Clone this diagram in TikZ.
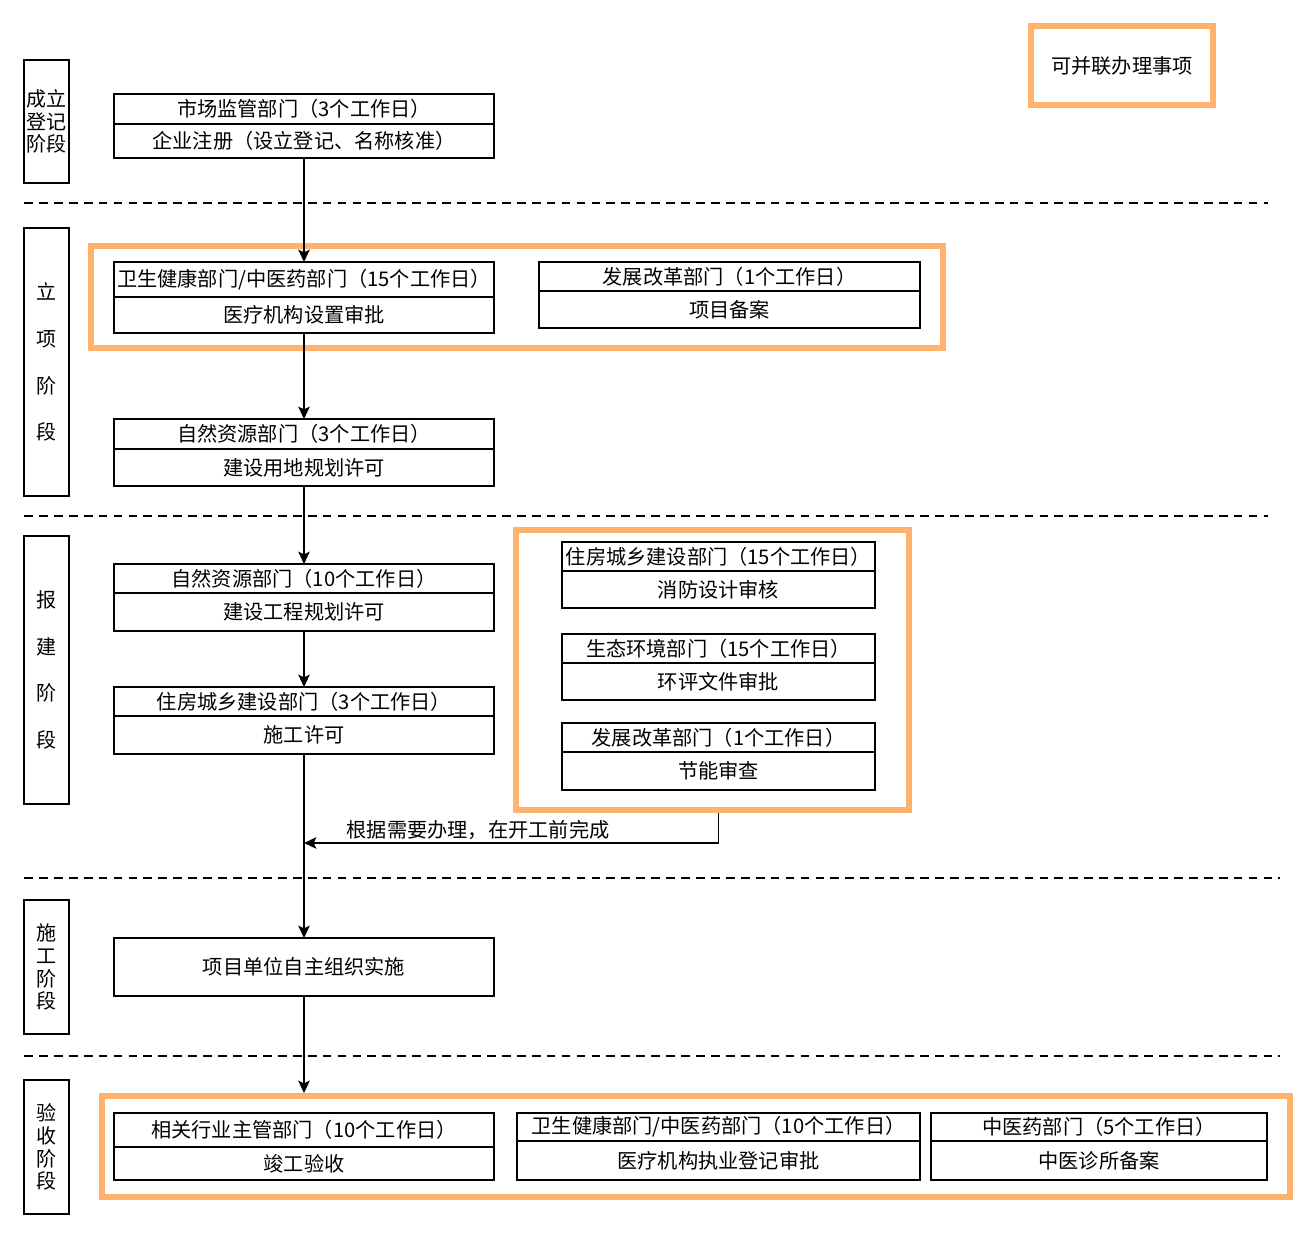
\documentclass[tikz,border=0pt]{standalone}
\usepackage{fontspec}
\setmainfont{Noto Sans CJK SC}
\usepackage{tikz}
\usetikzlibrary{arrows.meta}
\usetikzlibrary{positioning}
\definecolor{mergeorange}{HTML}{FFB36E}
\tikzset{
  head/.style={draw, line width=1.1pt, outer sep=0pt, inner sep=0pt, minimum width=7.6cm, minimum height=0.58cm},
  body/.style={head, minimum height=0.76cm},
  stage/.style={draw, line width=1.1pt, inner sep=0pt, minimum width=0.9cm, align=center},
  tight/.style={stage, font=\fontsize{11.4}{13}\selectfont},
  spaced/.style={stage, font=\fontsize{11.4}{26.6}\selectfont},
  group/.style={draw=mergeorange, line width=3.4pt, inner sep=0pt},
  divider/.style={line width=1.1pt, dash pattern=on 5pt off 3.5pt}
}
\begin{document}
\begin{tikzpicture}[x=0.02cm, y=-0.02cm, >={Stealth[length=7pt,width=6.5pt,inset=1.5pt]},
  font=\fontsize{11.5}{13.5}\selectfont]
\useasboundingbox (0,0) rectangle (1315,1237);
\node[group, minimum width=3.64cm, minimum height=1.58cm] (legend) at (1122,65.5) {可并联办理事项};
\node[tight, minimum height=2.46cm] (s1) at (46.5,121.5) {成立\\登记\\阶段};
\node[spaced, minimum height=5.36cm] (s2) at (46.5,362) {立\\项\\阶\\段};
\node[spaced, minimum height=5.36cm] (s3) at (46.5,670) {报\\建\\阶\\段};
\node[tight, minimum height=2.68cm] (s4) at (46.5,967) {施\\工\\阶\\段};
\node[tight, minimum height=2.68cm] (s5) at (46.5,1147) {验\\收\\阶\\段};
\draw[divider] (24,203) -- (1268,203);
\draw[divider] (24,516) -- (1268,516);
\draw[divider] (24,878) -- (1280,878);
\draw[divider] (24,1056) -- (1280,1056);
\node[group, minimum width=17.04cm, minimum height=2.04cm] (O1) at (517,297) {};
\node[group, minimum width=7.86cm, minimum height=5.6cm] (O2) at (712.5,670) {};
\node[group, minimum width=23.76cm, minimum height=2.02cm] (O3) at (696,1146.5) {};
\node[head, minimum height=0.6cm] (b1a) at (304,109) {市场监管部门（3个工作日）};
\node[body, minimum height=0.68cm, below=0pt of b1a] (b1b) {企业注册（设立登记、名称核准）};
\node[head, minimum height=0.7cm] (b2a) at (304,279.5) {卫生健康部门/中医药部门（15个工作日）};
\node[body, minimum height=0.72cm, below=0pt of b2a] (b2b) {医疗机构设置审批};
\node[head, minimum width=7.62cm] (b3a) at (729.5,276.5) {发展改革部门（1个工作日）};
\node[body, minimum width=7.62cm, minimum height=0.74cm, below=0pt of b3a] (b3b) {项目备案};
\node[head, minimum height=0.6cm] (b4a) at (304,434) {自然资源部门（3个工作日）};
\node[body, minimum height=0.74cm, below=0pt of b4a] (b4b) {建设用地规划许可};
\node[head] (b5a) at (304,578.5) {自然资源部门（10个工作日）};
\node[body, below=0pt of b5a] (b5b) {建设工程规划许可};
\node[head] (b6a) at (304,701.5) {住房城乡建设部门（3个工作日）};
\node[body, below=0pt of b6a] (b6b) {施工许可};
\node[head, minimum width=6.26cm] (r1a) at (718.5,556.5) {住房城乡建设部门（15个工作日）};
\node[body, minimum width=6.26cm, minimum height=0.74cm, below=0pt of r1a] (r1b) {消防设计审核};
\node[head, minimum width=6.26cm] (r2a) at (718.5,648.5) {生态环境部门（15个工作日）};
\node[body, minimum width=6.26cm, minimum height=0.74cm, below=0pt of r2a] (r2b) {环评文件审批};
\node[head, minimum width=6.26cm] (r3a) at (718.5,737.5) {发展改革部门（1个工作日）};
\node[body, minimum width=6.26cm, below=0pt of r3a] (r3b) {节能审查};
\node[head, minimum height=1.16cm] (b7) at (304,967) {项目单位自主组织实施};
\node[head, minimum height=0.68cm] (b8a) at (304,1130) {相关行业主管部门（10个工作日）};
\node[body, minimum height=0.66cm, below=0pt of b8a] (b8b) {竣工验收};
\node[head, minimum width=8.06cm, minimum height=0.56cm] (b9a) at (718.5,1127) {卫生健康部门/中医药部门（10个工作日）};
\node[body, minimum width=8.06cm, minimum height=0.78cm, below=0pt of b9a] (b9b) {医疗机构执业登记审批};
\node[head, minimum width=6.72cm, minimum height=0.56cm] (b10a) at (1099,1127) {中医药部门（5个工作日）};
\node[body, minimum width=6.72cm, minimum height=0.78cm, below=0pt of b10a] (b10b) {中医诊所备案};
\coordinate (join) at (304,843);
\draw[line width=1.1pt, ->] (b1b) -- (b2a);
\draw[line width=1.1pt, ->] (b2b) -- (b4a);
\draw[line width=1.1pt, ->] (b4b) -- (b5a);
\draw[line width=1.1pt, ->] (b5b) -- (b6a);
\draw[line width=1.1pt, ->] (b6b) -- (b7);
\draw[line width=1.1pt, ->] (b7.south) -- (b7.south |- O3.north);
\draw[line width=1.1pt, ->] (O2.south -| r3b) |- node[pos=0.79, above, inner sep=1.5pt] (note) {根据需要办理，在开工前完成} (join);
\end{tikzpicture}
\end{document}
